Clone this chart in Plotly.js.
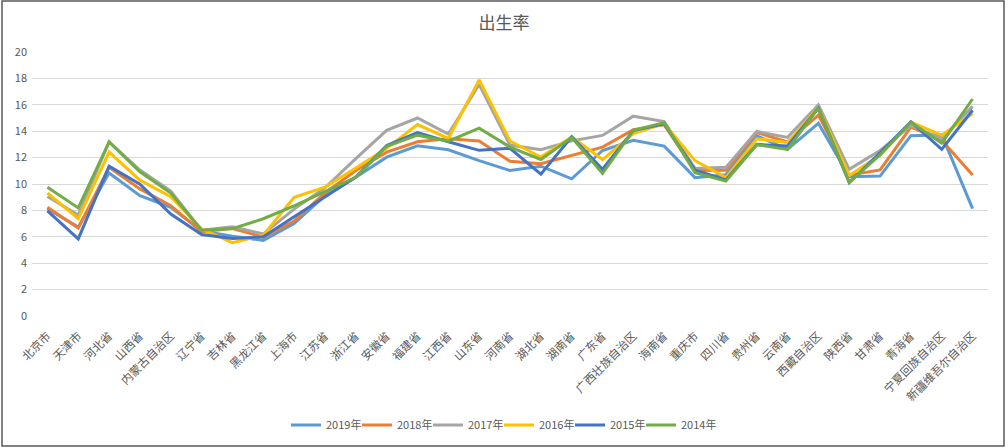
<!DOCTYPE html>
<html>
<head>
<meta charset="utf-8">
<script src="https://cdn.plot.ly/plotly-3.0.1.min.js"></script>
<style>
html,body{margin:0;padding:0;background:#fff;}
#chart{width:1008px;height:448px;}
</style>
</head>
<body>
<div id="chart"></div>
<script>
const provinces = ["北京市","天津市","河北省","山西省","内蒙古自治区","辽宁省","吉林省","黑龙江省","上海市","江苏省","浙江省","安徽省","福建省","江西省","山东省","河南省","湖北省","湖南省","广东省","广西壮族自治区","海南省","重庆市","四川省","贵州省","云南省","西藏自治区","陕西省","甘肃省","青海省","宁夏回族自治区","新疆维吾尔自治区"];

const y2019 = [8.12,6.73,10.83,9.12,8.23,6.45,6.05,5.73,7.00,9.12,10.51,12.03,12.90,12.59,11.77,11.02,11.35,10.39,12.54,13.31,12.87,10.48,10.70,13.65,12.63,14.60,10.55,10.60,13.66,13.72,8.14];
const y2018 = [8.24,6.67,11.26,9.63,8.35,6.39,6.62,5.98,7.20,9.32,11.02,12.41,13.20,13.43,13.26,11.72,11.54,12.19,12.79,14.12,14.48,11.02,11.05,13.90,13.19,15.22,10.67,11.07,14.31,13.32,10.69];
const y2017 = [9.06,7.65,13.20,11.06,9.47,6.49,6.76,6.22,8.10,9.71,11.92,14.07,15.00,13.79,17.54,12.95,12.60,13.27,13.68,15.14,14.73,11.18,11.26,13.98,13.53,16.00,11.11,12.54,14.42,13.44,15.88];
const y2016 = [9.32,7.37,12.42,10.29,9.03,6.60,5.55,6.12,9.00,9.76,11.22,12.70,14.50,13.45,17.89,13.26,12.04,13.57,11.85,13.82,14.57,11.77,10.48,13.43,13.14,15.79,10.64,12.18,14.70,13.69,15.34];
const y2015 = [7.96,5.84,11.35,9.98,7.72,6.17,5.87,6.00,7.52,9.05,10.52,12.92,13.90,13.20,12.55,12.70,10.74,13.58,11.12,14.05,14.57,11.05,10.30,13.00,12.88,15.75,10.10,12.36,14.72,12.62,15.59];
const y2014 = [9.75,8.19,13.18,10.92,9.31,6.49,6.62,7.37,8.35,9.45,10.51,12.86,13.70,13.24,14.23,12.80,11.86,13.52,10.80,14.07,14.65,10.86,10.22,12.98,12.62,15.76,10.13,12.21,14.67,13.10,16.44];

const seriesNames = ["2019年","2018年","2017年","2016年","2015年","2014年"];
const seriesData = [y2019,y2018,y2017,y2016,y2015,y2014];
const colors = ["#5B9BD5","#ED7D31","#A5A5A5","#FFC000","#4472C4","#70AD47"];

const traces = seriesNames.map((n,i)=>({
  type:"scatter", mode:"lines", name:n, x:provinces, y:seriesData[i],
  line:{color:colors[i], width:3},
  hoverinfo:"x+y+name"
}));
// empty spacer entry so the last legend label is not clipped
traces.push({type:"scatter", mode:"lines", name:" ", x:[null], y:[null],
  line:{color:"rgba(0,0,0,0)", width:1}, hoverinfo:"skip", showlegend:true});

const L=32, R=20, T=52, B=132;
const pw = 1008-L-R, ph = 448-T-B;
function px(x){return (x-L)/pw;}
function py(y){return (448-B-y)/ph;}

const layout = {
  width:1008, height:448,
  margin:{l:L, r:R, t:T, b:B, pad:0, autoexpand:false},
  paper_bgcolor:"#ffffff", plot_bgcolor:"#ffffff",
  font:{family:"'Noto Sans CJK SC', 'Noto Sans', sans-serif", color:"#595959", size:11},
  title:{text:"出生率", x:0.5, xanchor:"center", y:0.948, yanchor:"middle",
         font:{size:17, color:"#595959", family:"'Noto Sans CJK SC', sans-serif"}},
  xaxis:{type:"category", range:[-0.5,30.5], tickangle:-45, showgrid:false, zeroline:false,
         showline:false, ticks:"", tickfont:{size:11.5, color:"#595959"}, automargin:false,
         ticklabelstandoff:10},
  yaxis:{range:[0,20], dtick:2, tick0:0, showgrid:true, gridcolor:"#D9D9D9", gridwidth:1,
         zeroline:false, showline:false, ticks:"", tickfont:{size:11, color:"#595959"},
         automargin:false, ticklabelstandoff:4},
  showlegend:true,
  legend:{orientation:"h", x:px(286), xanchor:"left", y:py(425), yanchor:"middle",
          font:{size:11, color:"#595959"}, itemwidth:30, bgcolor:"rgba(0,0,0,0)",
          entrywidth:26, entrywidthmode:"pixels", traceorder:"normal"},
  shapes:[
    {type:"rect", xref:"paper", yref:"paper", x0:px(2), x1:px(1004), y0:py(446), y1:py(1),
     line:{color:"#595959", width:1.5}, fillcolor:"rgba(0,0,0,0)", layer:"above"}
  ]
};

Plotly.newPlot("chart", traces, layout, {staticPlot:false, displayModeBar:false});
</script>
</body>
</html>
